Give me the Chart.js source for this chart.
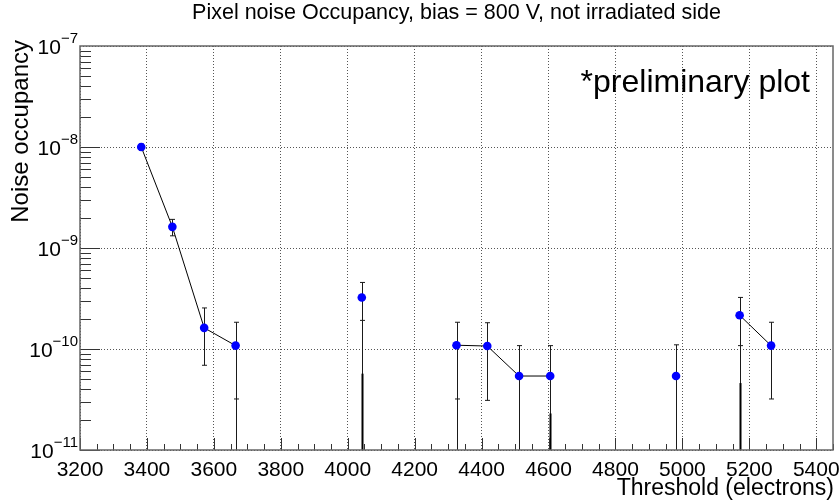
<!DOCTYPE html>
<html>
<head>
<meta charset="utf-8">
<script src="https://cdn.jsdelivr.net/npm/chart.js@4.4.0/dist/chart.umd.min.js"></script>
<style>
  html, body { margin: 0; padding: 0; background: #ffffff; }
  #wrap { width: 840px; height: 501px; position: relative; }
</style>
</head>
<body>
<div id="wrap"><canvas id="c" width="840" height="501"></canvas></div>
<script>
// Threshold scan: noise occupancy per threshold setting
const thresholds = [3383, 3476, 3571, 3665, 4042, 4325, 4417, 4512, 4605, 4981, 5171, 5265];
const occupancy  = [1.0e-8, 1.62e-9, 1.62e-10, 1.08e-10, 3.24e-10, 1.09e-10, 1.07e-10, 5.4e-11, 5.4e-11, 5.4e-11, 2.16e-10, 1.08e-10];
const errHigh    = [1.07e-8, 1.92e-9, 2.55e-10, 1.84e-10, 4.56e-10, 1.84e-10, 1.82e-10, 1.08e-10, 1.08e-10, 1.10e-10, 3.24e-10, 1.84e-10];
// lower end of the error bar (null: reaches zero, i.e. the bottom of the log axis)
const errLow     = [0.93e-8, 1.32e-9, 6.9e-11, 3.2e-11, 1.92e-10, 3.2e-11, 3.1e-11, null, null, null, 1.08e-10, 3.2e-11];
// thin continuation of the lower bar down to the axis
const tailToAxis = [0, 0, 0, 1, 1, 1, 0, 0, 0, 0, 1, 0];
// heavier bars rising from the axis at the same threshold
const baseBarTop = [null, null, null, null, 5.7e-11, null, null, null, 2.3e-11, null, 4.6e-11, null];
// consecutive scan points joined by a line
const scanGroup  = [0, 0, 0, 0, 1, 2, 2, 2, 2, 3, 4, 4];

const xTicks     = [3200, 3400, 3600, 3800, 4000, 4200, 4400, 4600, 4800, 5000, 5200, 5400];
const xMinorStep = 50;
const yDecades   = [1e-11, 1e-10, 1e-9, 1e-8, 1e-7];
const yExponents = [-11, -10, -9, -8, -7];

const X_MIN = 3200, X_MAX = 5450;
const FONT = '"Liberation Sans", Arial, Helvetica, sans-serif';

// one dataset per connected group of points
const groups = [...new Set(scanGroup)];
const datasets = groups.map(g => ({
  data: thresholds
    .map((x, i) => ({ x: x, y: occupancy[i], g: scanGroup[i] }))
    .filter(p => p.g === g),
  showLine: true,
  borderColor: '#000000',
  borderWidth: 1,
  pointRadius: 4.3,
  pointHoverRadius: 4.3,
  pointBackgroundColor: '#0000ff',
  pointBorderColor: '#0000ff',
  pointBorderWidth: 0,
  clip: false
}));

const errorBars = {
  id: 'errorBars',
  beforeDatasetsDraw(chart) {
    const { ctx, chartArea, scales: { x, y } } = chart;
    ctx.save();
    ctx.strokeStyle = '#1a1a1a';
    ctx.lineWidth = 1;
    const cap = 2.5;
    thresholds.forEach((t, i) => {
      const px = Math.round(x.getPixelForValue(t)) + 0.5;
      const yTop = y.getPixelForValue(errHigh[i]);
      const hasLow = errLow[i] !== null;
      const yLow = hasLow ? y.getPixelForValue(errLow[i]) : chartArea.bottom;
      ctx.beginPath();
      ctx.moveTo(px, yTop);
      ctx.lineTo(px, yLow);
      ctx.moveTo(px - cap, yTop);
      ctx.lineTo(px + cap, yTop);
      if (hasLow) {
        ctx.moveTo(px - cap, yLow);
        ctx.lineTo(px + cap, yLow);
        if (tailToAxis[i]) {
          ctx.moveTo(px, yLow);
          ctx.lineTo(px, chartArea.bottom);
        }
      }
      ctx.stroke();
      if (baseBarTop[i] !== null) {
        ctx.save();
        ctx.lineWidth = 2;
        ctx.strokeStyle = '#000000';
        ctx.beginPath();
        ctx.moveTo(px, y.getPixelForValue(baseBarTop[i]));
        ctx.lineTo(px, chartArea.bottom);
        ctx.stroke();
        ctx.restore();
      }
    });
    ctx.restore();
  }
};

const frameAndLabels = {
  id: 'frameAndLabels',
  afterDraw(chart) {
    const { ctx, chartArea: a, scales: { x, y } } = chart;
    ctx.save();

    // tick marks, drawn inward from the bottom and left axes
    ctx.strokeStyle = '#333333';
    ctx.lineWidth = 1;
    ctx.beginPath();
    for (let v = X_MIN; v <= X_MAX + 0.01; v += xMinorStep) {
      const px = Math.round(x.getPixelForValue(v)) + 0.5;
      const len = (v % 200 === 0) ? 12 : 6;
      ctx.moveTo(px, a.bottom);
      ctx.lineTo(px, a.bottom - len);
    }
    for (let d = -11; d < -7; d++) {
      for (let m = 1; m <= 9; m++) {
        const v = m * Math.pow(10, d);
        const py = Math.round(y.getPixelForValue(v)) + 0.5;
        const len = (m === 1) ? 20 : 11;
        ctx.moveTo(a.left, py);
        ctx.lineTo(a.left + len, py);
      }
    }
    ctx.stroke();

    // frame
    ctx.strokeStyle = '#666666';
    ctx.lineWidth = 1.5;
    ctx.strokeRect(a.left, a.top, a.right - a.left, a.bottom - a.top);

    ctx.fillStyle = '#000000';

    // x tick labels
    ctx.font = '21px ' + FONT;
    ctx.textAlign = 'center';
    ctx.textBaseline = 'alphabetic';
    xTicks.forEach(v => {
      ctx.fillText(String(v), x.getPixelForValue(v), a.bottom + 26);
    });

    // y tick labels as 10 with a superscript exponent
    yDecades.forEach((v, i) => {
      const py = y.getPixelForValue(v);
      const exp = '\u2212' + String(Math.abs(yExponents[i]));
      ctx.font = '15px ' + FONT;
      const we = ctx.measureText(exp).width;
      ctx.font = '21px ' + FONT;
      const wb = ctx.measureText('10').width;
      const right = a.left - 2;
      ctx.textAlign = 'left';
      ctx.fillText('10', right - we - wb, py + 8);
      ctx.font = '15px ' + FONT;
      ctx.fillText(exp, right - we, py - 3);
    });

    // title
    ctx.font = '21.5px ' + FONT;
    ctx.textAlign = 'center';
    ctx.fillText('Pixel noise Occupancy, bias = 800 V, not irradiated side', (a.left + a.right) / 2, 19);

    // axis titles
    ctx.font = '23px ' + FONT;
    ctx.textAlign = 'right';
    ctx.fillText('Threshold (electrons)', a.right + 1, a.bottom + 45);

    ctx.save();
    ctx.font = '24px ' + FONT;
    ctx.translate(28, a.top - 6);
    ctx.rotate(-Math.PI / 2);
    ctx.textAlign = 'right';
    ctx.fillText('Noise occupancy', 0, 0);
    ctx.restore();

    // annotation
    ctx.font = '32px ' + FONT;
    ctx.textAlign = 'right';
    ctx.fillText('*preliminary plot', 810, 92);

    ctx.restore();
  }
};

new Chart(document.getElementById('c'), {
  type: 'scatter',
  data: { datasets: datasets },
  options: {
    responsive: false,
    animation: false,
    devicePixelRatio: 1,
    layout: { padding: { left: 80, top: 46, right: 7, bottom: 51 } },
    plugins: { legend: { display: false }, tooltip: { enabled: false } },
    scales: {
      x: {
        type: 'linear',
        min: X_MIN,
        max: X_MAX,
        afterBuildTicks: s => { s.ticks = xTicks.map(v => ({ value: v })); },
        ticks: { display: false },
        grid: { color: '#555555', lineWidth: 1, drawTicks: false },
        border: { display: false, dash: [1, 2] }
      },
      y: {
        type: 'logarithmic',
        min: 1e-11,
        max: 1e-7,
        afterBuildTicks: s => { s.ticks = yDecades.map(v => ({ value: v })); },
        ticks: { display: false },
        grid: { color: '#555555', lineWidth: 1, drawTicks: false },
        border: { display: false, dash: [1, 2] }
      }
    }
  },
  plugins: [errorBars, frameAndLabels]
});
</script>
</body>
</html>
